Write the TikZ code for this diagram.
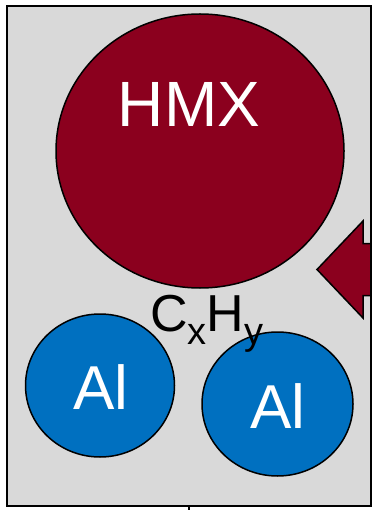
\documentclass[tikz,border=0pt]{standalone}
\usepackage{fontspec}
\setmainfont{Liberation Sans}
\usetikzlibrary{shapes.geometric}
\definecolor{hmxred}{RGB}{139,0,30}
\definecolor{alblue}{RGB}{0,112,192}
\definecolor{bggray}{RGB}{217,217,217}
\begin{document}
\begin{tikzpicture}[x=1pt,y=-1pt,
  particle/.style={draw=black,line width=1.5pt,ellipse,inner sep=0pt},
  bigtext/.style={text=white,inner sep=0pt,anchor=base},
]
\useasboundingbox (0,0) rectangle (372,510);
\fill[bggray] (7,6) rectangle (371,506);
\node (hmx) [particle,fill=hmxred,minimum width=288pt,minimum height=274pt] at (200,151) {};
\node (hmxlabel) [bigtext,font=\fontsize{64}{64}\selectfont] at (189,127) {HMX};
\node (al1) [particle,fill=alblue,minimum width=149pt,minimum height=143pt] at (100,385.5) {};
\node (al1label) [bigtext,font=\fontsize{62}{62}\selectfont] at (101,409) {Al};
\node (al2) [particle,fill=alblue,minimum width=151pt,minimum height=144pt] at (277.5,404) {};
\node (al2label) [bigtext,font=\fontsize{62}{62}\selectfont] at (278,428) {Al};
\node (cxhy) [inner sep=0pt,anchor=base west,font=\fontsize{52}{52}\selectfont] at (150,331)
  {C\raisebox{-13pt}{\fontsize{38}{38}\selectfont x}H\raisebox{-13pt}{\fontsize{38}{38}\selectfont y}};
\filldraw[fill=hmxred,draw=black,line width=1.5pt]
  (371,243.5) -- (363,243.5) -- (363,221) -- (317,269.5) -- (363,318) -- (363,295.5) -- (371,295.5);
\draw[line width=2pt] (7,6) rectangle (371,506);
\coordinate (tickend) at (189,510);
\coordinate (tickstart) at (189,506);
\draw[line width=1.5pt] (tickstart) -- (tickend);
\end{tikzpicture}
\end{document}
